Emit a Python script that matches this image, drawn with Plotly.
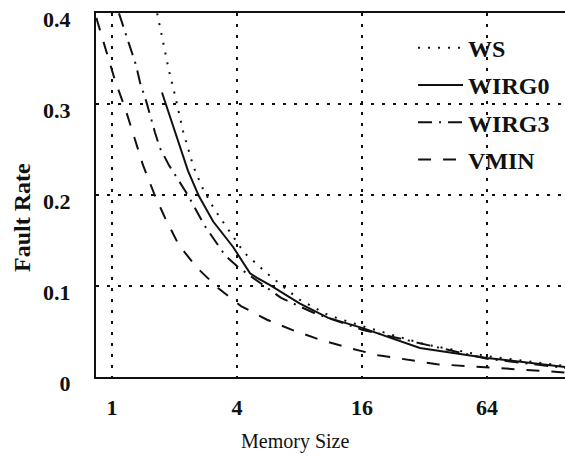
import math
import plotly.graph_objects as go

# Memory size (log scale) and fault rate for each replacement policy
ws_size = [1.65, 1.75, 1.88, 2.01, 2.2, 2.46, 2.74, 3.1, 3.5, 4.32, 5.64, 8.0, 11.0, 16, 32, 64, 152]
ws_rate = [0.400, 0.370, 0.337, 0.310, 0.270, 0.232, 0.207, 0.185, 0.167, 0.137, 0.113, 0.085, 0.068, 0.056, 0.036, 0.023, 0.012]

wirg0_size = [1.74, 2.01, 2.32, 2.62, 3.07, 3.83, 4.62, 5.0, 5.77, 8.0, 11.0, 16, 30.4, 64, 152]
wirg0_rate = [0.313, 0.269, 0.227, 0.199, 0.171, 0.143, 0.114, 0.109, 0.101, 0.081, 0.065, 0.054, 0.032, 0.021, 0.011]

wirg3_size = [1.08, 1.155, 1.22, 1.305, 1.364, 1.458, 1.61, 1.70, 1.88, 2.13, 2.32, 2.80, 3.50, 4.04, 6.52, 9.50, 16, 64, 152]
wirg3_rate = [0.400, 0.379, 0.362, 0.343, 0.324, 0.304, 0.269, 0.252, 0.233, 0.214, 0.200, 0.166, 0.134, 0.121, 0.087, 0.070, 0.052, 0.020, 0.010]

vmin_size = [0.84, 0.946, 1.034, 1.155, 1.276, 1.41, 1.593, 1.80, 2.10, 2.57, 3.24, 4.18, 5.58, 7.53, 10.04, 13.85, 19.1, 26.4, 36.8, 51.8, 152]
vmin_rate = [0.395, 0.357, 0.326, 0.296, 0.264, 0.233, 0.202, 0.175, 0.145, 0.120, 0.098, 0.078, 0.063, 0.051, 0.041, 0.032, 0.024, 0.019, 0.014, 0.012, 0.005]

x_ticks = [1, 4, 16, 64]
x_tick_text = ["1", "4", "16", "64"]
y_ticks = [0, 0.1, 0.2, 0.3, 0.4]
y_tick_text = ["0", "0.1", "0.2", "0.3", "0.4"]

SERIF = "Liberation Serif, Times New Roman, serif"
INK = "#111111"

series = [
    ("WS", ws_size, ws_rate, "2px,8px"),
    ("WIRG0", wirg0_size, wirg0_rate, "solid"),
    ("WIRG3", wirg3_size, wirg3_rate, "14px,7px,2px,7px"),
    ("VMIN", vmin_size, vmin_rate, "13px,12px"),
]

fig = go.Figure()
for name, xs, ys, dash in series:
    fig.add_trace(go.Scatter(
        x=xs, y=ys, mode="lines", name=f"<b>{name}</b>",
        legendgroup=name,
        line=dict(color=INK, width=2, dash=dash),
    ))

grid = dict(showgrid=True, gridcolor=INK, gridwidth=2, griddash="3px,8px")

fig.update_layout(
    width=565, height=456,
    margin=dict(l=96, r=0, t=13, b=79),
    paper_bgcolor="white", plot_bgcolor="white",
    font=dict(family=SERIF, color=INK, size=20),
    showlegend=True,
    legend=dict(
        x=0.676, y=0.965, xanchor="left", yanchor="top",
        bgcolor="rgba(0,0,0,0)", borderwidth=0,
        font=dict(family=SERIF, size=24, color=INK),
        itemwidth=45, tracegroupgap=3,
    ),
    xaxis=dict(
        type="log",
        range=[math.log10(0.837), math.log10(152)],
        tickvals=x_ticks, ticktext=[f"<b>{t}</b>" for t in x_tick_text],
        tickfont=dict(family=SERIF, size=22, color=INK),
        ticks="", ticklabelstandoff=10,
        showline=True, linecolor=INK, linewidth=2, mirror=True,
        zeroline=False, **grid,
    ),
    yaxis=dict(
        range=[0, 0.4004],
        tickvals=y_ticks, ticktext=[f"<b>{t}</b>" for t in y_tick_text],
        tickfont=dict(family=SERIF, size=22, color=INK),
        ticks="", ticklabelstandoff=19, ticklabelshift=6,
        ticklabeloverflow="allow",
        showline=True, linecolor=INK, linewidth=2, mirror=False,
        zeroline=False, **grid,
    ),
    annotations=[
        dict(text="Memory Size", xref="paper", yref="paper",
             x=(295 - 96) / 469, y=-64 / 364, xanchor="center", yanchor="middle",
             showarrow=False, font=dict(family=SERIF, size=20, color=INK)),
        dict(text="<b>Fault Rate</b>", xref="paper", yref="paper",
             x=-74 / 469, y=(377 - 218) / 364, xanchor="center", yanchor="middle",
             textangle=-90, showarrow=False,
             font=dict(family=SERIF, size=24, color=INK)),
    ],
)

fig.write_html("out.html")
